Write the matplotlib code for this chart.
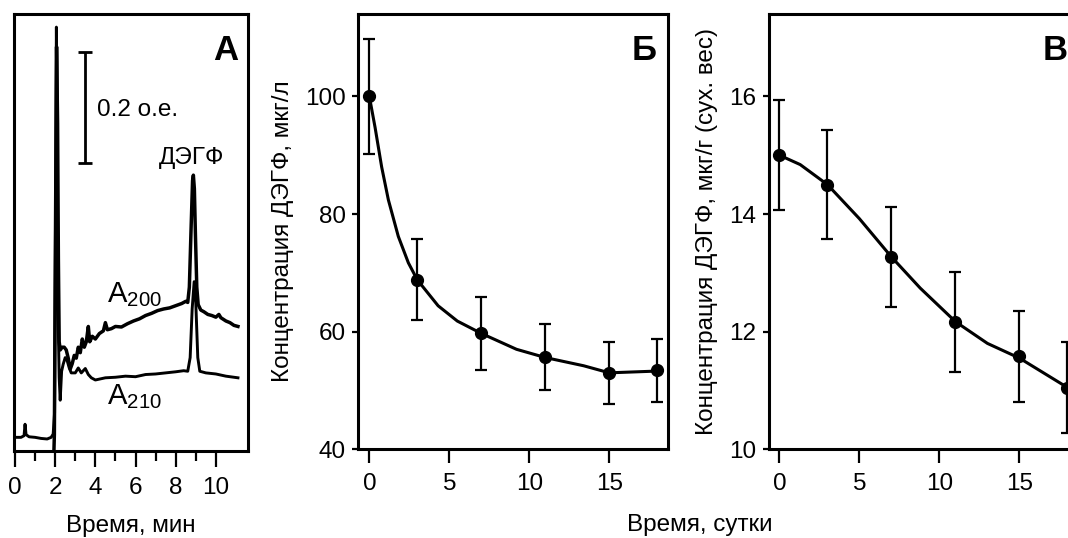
import numpy as np
import matplotlib
matplotlib.use("Agg")
import matplotlib.pyplot as plt

plt.rcParams['font.family'] = ['Liberation Sans', 'DejaVu Sans']
plt.rcParams['font.size'] = 17.5
plt.rcParams['mathtext.fontset'] = 'custom'
plt.rcParams['mathtext.rm'] = 'Liberation Sans'
plt.rcParams['mathtext.it'] = 'Liberation Sans'
plt.rcParams['mathtext.default'] = 'regular'

# panel A: chromatogram, absorbance in arbitrary units
a210_t = [0, 0.3, 0.45, 0.5, 0.55, 0.7, 1.0, 1.3, 1.6, 1.8, 1.9, 1.97, 2.02, 2.06, 2.1,
          2.14, 2.2, 2.25, 2.32, 2.4, 2.5, 2.6, 2.7, 2.8, 3.0, 3.15, 3.3, 3.5, 3.65, 3.8,
          4.0, 4.5, 5.0, 5.5, 6.0, 6.5, 7.0, 7.5, 8.0, 8.4, 8.6, 8.72, 8.82, 8.92, 9.0,
          9.1, 9.2, 9.5, 10.0, 10.5, 11.1]
a210_v = [0.025, 0.025, 0.028, 0.049, 0.03, 0.026, 0.025, 0.023, 0.022, 0.025, 0.031, 0.07,
          0.45, 0.776, 0.57, 0.26, 0.134, 0.093, 0.146, 0.159, 0.171, 0.165, 0.152, 0.143,
          0.143, 0.152, 0.143, 0.151, 0.14, 0.134, 0.13, 0.134, 0.135, 0.137, 0.136, 0.14,
          0.141, 0.143, 0.145, 0.147, 0.146, 0.171, 0.26, 0.31, 0.272, 0.171, 0.146, 0.143,
          0.141, 0.137, 0.134]

a200_t = [1.93, 1.96, 2.0, 2.07, 2.12, 2.16, 2.2, 2.25, 2.35, 2.45, 2.55, 2.65, 2.75, 2.85,
          2.95, 3.05, 3.15, 3.25, 3.35, 3.45, 3.55, 3.65, 3.72, 3.85, 4.0, 4.2, 4.4, 4.5,
          4.6, 4.8, 5.0, 5.3, 5.6, 5.9, 6.2, 6.5, 6.8, 7.1, 7.4, 7.7, 8.0, 8.3, 8.5, 8.6,
          8.68, 8.76, 8.84, 8.88, 8.93, 8.98, 9.05, 9.12, 9.25, 9.4, 9.6, 9.8, 10.0, 10.15,
          10.25, 10.5, 10.7, 10.9, 11.1]
a200_v = [-0.01, 0.03, 0.3, 0.74, 0.6, 0.35, 0.2, 0.185, 0.19, 0.19, 0.185, 0.17, 0.15, 0.16,
          0.175, 0.17, 0.19, 0.18, 0.205, 0.19, 0.2, 0.228, 0.2, 0.21, 0.205, 0.215, 0.22,
          0.235, 0.222, 0.224, 0.228, 0.227, 0.233, 0.238, 0.242, 0.248, 0.252, 0.257, 0.26,
          0.262, 0.266, 0.27, 0.274, 0.272, 0.3, 0.4, 0.495, 0.505, 0.48, 0.4, 0.3, 0.268,
          0.258, 0.255, 0.25, 0.248, 0.245, 0.25, 0.244, 0.238, 0.235, 0.23, 0.228]

scale_x = 3.48
scale_lo = 0.527
scale_hi = 0.730

# panel Б: concentration in water, ug/l
days = [0, 3, 7, 11, 15, 18]
water = [100, 68.8, 59.7, 55.7, 53.0, 53.4]
water_err = [9.8, 6.9, 6.2, 5.6, 5.3, 5.3]
water_fit_t = [0, 0.36, 0.77, 1.19, 1.81, 2.44, 3, 4.3, 5.5, 7, 9.2, 11, 13.4, 15, 18]
water_fit = [100, 94.7, 88, 82.4, 76.2, 71.7, 68.8, 64.4, 61.8, 59.7, 57.0, 55.6, 54.2, 53.0, 53.3]

# panel В: concentration in plants, ug/g dry weight
plant = [15.0, 14.5, 13.27, 12.17, 11.58, 11.05]
plant_err = [0.94, 0.93, 0.85, 0.85, 0.77, 0.78]
plant_fit_t = [0, 1.3, 3, 5.0, 7, 8.8, 11, 13, 15, 18]
plant_fit = [15.0, 14.84, 14.5, 13.92, 13.27, 12.74, 12.17, 11.8, 11.55, 11.05]

W, H = 1068, 538
fig = plt.figure(figsize=(W / 100, H / 100), dpi=100)


def px_axes(x0, x1, y0, y1):
    # pixel box (from top-left) -> figure axes
    return fig.add_axes([x0 / W, (H - y1) / H, (x1 - x0) / W, (y1 - y0) / H])


def style(ax):
    for s in ax.spines.values():
        s.set_linewidth(2.2)
    ax.tick_params(direction='out', width=1.6, length=10, pad=7, top=False, right=False)
    ax.tick_params(axis='y', length=4, pad=5)


# --- A ---
axA = px_axes(14, 248, 14, 451)
style(axA)
axA.plot(a210_t, a210_v, color='black', lw=2.1)
axA.plot(a200_t, a200_v, color='black', lw=2.5)
axA.errorbar([scale_x], [(scale_lo + scale_hi) / 2], yerr=[(scale_hi - scale_lo) / 2],
             fmt='none', ecolor='black', elinewidth=2, capsize=5, capthick=2)
axA.set_xlim(-0.05, 11.6)
axA.set_ylim(0, 0.8)
axA.set_xticks([0, 2, 4, 6, 8, 10])
axA.set_xticks([1, 3, 5, 7, 9], minor=True)
axA.tick_params(axis='x', which='major', length=11.5, width=1.6)
axA.tick_params(axis='x', which='minor', length=7, width=1.6)
axA.set_yticks([])
axA.text(4.06, 0.614, '0.2 о.е.', ha='left', va='baseline')
axA.text(8.8, 0.526, 'ДЭГФ', ha='center', va='baseline')
axA.text(4.56, 0.272, 'A$_{200}$', ha='left', va='baseline', fontsize=21)
axA.text(4.56, 0.086, 'A$_{210}$', ha='left', va='baseline', fontsize=21)
axA.text(0.957, 0.955, 'А', transform=axA.transAxes, ha='right', va='top',
         fontsize=25, fontweight='bold')
axA.set_xlabel('Время, мин', labelpad=12)

# --- Б ---
axB = px_axes(358.3, 668.3, 14, 449.3)
style(axB)
axB.plot(water_fit_t, water_fit, color='black', lw=2.2)
axB.errorbar(days, water, yerr=water_err, fmt='o', color='black', ms=8.5,
             elinewidth=1.6, capsize=4, capthick=1.6)
axB.set_xlim(-0.69, 18.69)
axB.set_ylim(40, 114)
axB.set_xticks([0, 5, 10, 15])
axB.set_yticks([40, 60, 80, 100])
axB.set_ylabel('Концентрация ДЭГФ, мкг/л', labelpad=8)
axB.text(0.9635, 0.955, 'Б', transform=axB.transAxes, ha='right', va='top',
         fontsize=25, fontweight='bold')

# --- В (runs past the right edge as in the original) ---
axC = px_axes(769.0, 1079.0, 14, 449.3)
style(axC)
axC.plot(plant_fit_t, plant_fit, color='black', lw=2.2)
axC.errorbar(days, plant, yerr=plant_err, fmt='o', color='black', ms=8.5,
             elinewidth=1.6, capsize=4, capthick=1.6)
axC.set_xlim(-0.65, 18.72)
axC.set_ylim(10, 17.4)
axC.set_xticks([0, 5, 10, 15])
axC.set_yticks([10, 12, 14, 16])
axC.set_ylabel('Концентрация ДЭГФ, мкг/г (сух. вес)', labelpad=8)
axC.text(0.9635, 0.955, 'В', transform=axC.transAxes, ha='right', va='top',
         fontsize=25, fontweight='bold')

fig.text(700 / W, 1 - 525 / H, 'Время, сутки', ha='center', va='center')

fig.savefig('out.png', dpi=100)
